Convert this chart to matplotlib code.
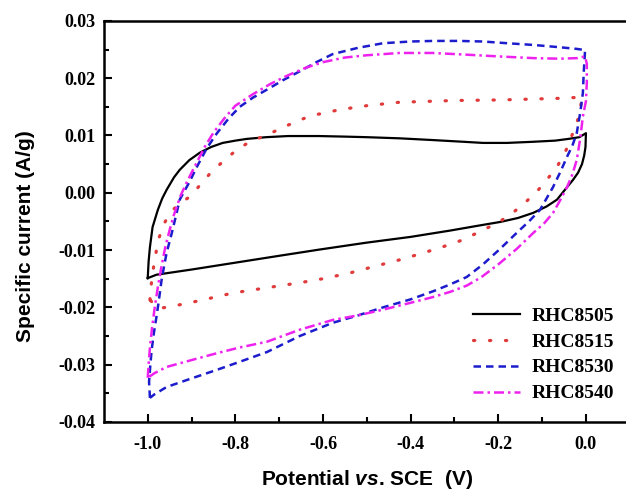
import matplotlib
matplotlib.use('Agg')
import matplotlib.pyplot as plt

plt.rcParams['mathtext.fontset'] = 'custom'
plt.rcParams['mathtext.it'] = 'Liberation Sans:italic:bold'
plt.rcParams['mathtext.rm'] = 'Liberation Sans:bold'

# each loop: anodic sweep (-1.0 -> 0.0) then cathodic sweep back to -1.0
x8505 = [-1.0, -0.998, -0.995, -0.989, -0.977, -0.967, -0.957, -0.94, -0.927, -0.905, -0.881, -0.855, -0.829, -0.8, -0.774,
         -0.73, -0.68, -0.61, -0.55, -0.5, -0.425, -0.35, -0.28, -0.235, -0.18, -0.12, -0.07, -0.04, -0.015, 0.0,
         -0.001, -0.004, -0.009, -0.018, -0.03, -0.045, -0.066, -0.09, -0.12, -0.155, -0.196, -0.25, -0.31, -0.4, -0.5,
         -0.607, -0.7, -0.8, -0.9, -0.98, -1.0]
y8505 = [-0.0149, -0.012, -0.0095, -0.006, -0.003, -0.001, 0.0005, 0.0027, 0.004, 0.0057, 0.007, 0.008, 0.0087, 0.0091, 0.0094,
         0.0097, 0.0099, 0.0099, 0.0098, 0.0097, 0.0095, 0.0092, 0.0089, 0.0087, 0.0087, 0.0089, 0.0091, 0.0094, 0.0097, 0.0104,
         0.008, 0.0065, 0.005, 0.0035, 0.0022, 0.0008, -0.0012, -0.0024, -0.0035, -0.0044, -0.0051, -0.0058, -0.0066, -0.0077, -0.0087,
         -0.0099, -0.011, -0.0122, -0.0134, -0.0143, -0.0149]

x8515 = [-0.995, -0.992, -0.985, -0.975, -0.96, -0.94, -0.92, -0.904, -0.88, -0.854, -0.829, -0.797, -0.767, -0.728, -0.68,
         -0.63, -0.562, -0.5, -0.425, -0.3, -0.196, -0.1, -0.052, -0.009,
         -0.015, -0.03, -0.045, -0.066, -0.09, -0.112, -0.14, -0.167, -0.2, -0.235, -0.28, -0.333, -0.38, -0.425, -0.48,
         -0.539, -0.6, -0.653, -0.73, -0.806, -0.88, -0.943, -0.975, -0.995]
y8515 = [-0.0187, -0.016, -0.012, -0.008, -0.005, -0.0028, -0.0015, -0.0007, 0.0014, 0.0037, 0.0054, 0.0075, 0.0089, 0.0101, 0.0118,
         0.0134, 0.0145, 0.0152, 0.0158, 0.0161, 0.0162, 0.0164, 0.0165, 0.0167,
         0.0135, 0.0104, 0.0075, 0.0045, 0.0022, 0.0002, -0.0018, -0.0035, -0.0052, -0.0065, -0.0082, -0.0096, -0.0107, -0.0117, -0.0128,
         -0.014, -0.015, -0.0157, -0.0166, -0.0175, -0.0188, -0.0198, -0.0202, -0.0187]

x8530 = [-0.995, -0.997, -0.994, -0.991, -0.986, -0.98, -0.975, -0.968, -0.957, -0.945, -0.934, -0.927, -0.904, -0.888, -0.865,
         -0.842, -0.815, -0.79, -0.76, -0.728, -0.69, -0.653, -0.615, -0.578, -0.52, -0.463, -0.4, -0.349, -0.29, -0.235, -0.18,
         -0.12, -0.06, -0.02, -0.002,
         -0.003, -0.005, -0.007, -0.013, -0.021, -0.031, -0.043, -0.058, -0.075, -0.09, -0.105, -0.13, -0.158, -0.196, -0.235,
         -0.272, -0.31, -0.349, -0.4, -0.463, -0.52, -0.578, -0.653, -0.728, -0.79, -0.842, -0.9, -0.957, -0.985, -0.995]
y8530 = [-0.0358, -0.033, -0.030, -0.0274, -0.0245, -0.0216, -0.019, -0.015, -0.0105, -0.007, -0.0035, -0.0012, 0.002, 0.0045, 0.0078,
         0.0104, 0.013, 0.015, 0.0166, 0.018, 0.0197, 0.0212, 0.0228, 0.0242, 0.0253, 0.0261, 0.0264, 0.0265, 0.0265, 0.0264, 0.0261,
         0.0258, 0.0254, 0.0251, 0.0249,
         0.0235, 0.021, 0.0174, 0.014, 0.0104, 0.0082, 0.0063, 0.0037, 0.001, -0.001, -0.003, -0.005, -0.007, -0.0098, -0.0125,
         -0.0147, -0.016, -0.0172, -0.0186, -0.020, -0.0214, -0.0227, -0.025, -0.0278, -0.0295, -0.0309, -0.0324, -0.0339, -0.0352, -0.0358]

x8540 = [-1.0, -0.998, -0.995, -0.99, -0.984, -0.977, -0.969, -0.96, -0.95, -0.94, -0.925, -0.91, -0.89, -0.87, -0.85,
         -0.825, -0.8, -0.76, -0.72, -0.68, -0.64, -0.6, -0.55, -0.5, -0.425, -0.35, -0.272, -0.2, -0.12, -0.06, -0.02, -0.002,
         0.002, 0.002, 0.0, -0.007, -0.013, -0.021, -0.031, -0.043, -0.058, -0.075, -0.095, -0.12, -0.158, -0.2, -0.24,
         -0.272, -0.31, -0.349, -0.4, -0.463, -0.52, -0.578, -0.653, -0.728, -0.79, -0.842, -0.9, -0.957, -0.985, -1.0]
y8540 = [-0.0323, -0.030, -0.027, -0.0235, -0.020, -0.0165, -0.013, -0.0095, -0.0065, -0.0038, -0.0005, 0.002, 0.005, 0.008, 0.0105,
         0.013, 0.0152, 0.0172, 0.019, 0.0205, 0.0218, 0.0228, 0.0236, 0.024, 0.0244, 0.0244, 0.0241, 0.0238, 0.0235, 0.0234, 0.0235, 0.0238,
         0.0225, 0.0192, 0.016, 0.0133, 0.0095, 0.0057, 0.0032, 0.001, -0.0012, -0.0035, -0.0053, -0.007, -0.0098, -0.0125, -0.0148,
         -0.0162, -0.0173, -0.0182, -0.0192, -0.0204, -0.0214, -0.0222, -0.0239, -0.026, -0.027, -0.028, -0.0292, -0.0304, -0.0315, -0.0323]

labels = ['RHC8505', 'RHC8515', 'RHC8530', 'RHC8540']
xticks = [-1.0, -0.8, -0.6, -0.4, -0.2, 0.0]
yticks = [-0.04, -0.03, -0.02, -0.01, 0.0, 0.01, 0.02, 0.03]

fig = plt.figure(figsize=(6.26, 4.97), dpi=100)
ax = fig.add_axes((0.166, 0.151, 0.840, 0.807))

ax.plot(x8505, y8505, color='black', lw=1.6, label=labels[0])
ax.plot(x8515, y8515, color='#e03a3a', lw=2.3, ls=(0, (0.4, 4.6)), dash_capstyle='round', label=labels[1])
ax.plot(x8530, y8530, color='#1c1ccc', lw=1.8, ls=(0, (3.0, 2.0)), label=labels[2])
ax.plot(x8540, y8540, color='#ee22ee', lw=1.8, ls=(0, (4.0, 1.6, 1.0, 1.6)), label=labels[3])

ax.set_xlim(-1.1, 0.1)
ax.set_ylim(-0.04, 0.03)
ax.set_xticks(xticks)
ax.set_xticks([-0.9, -0.7, -0.5, -0.3, -0.1], minor=True)
ax.set_yticks(yticks)
ax.set_yticks([-0.035, -0.025, -0.015, -0.005, 0.005, 0.015, 0.025], minor=True)
ax.set_xticklabels(['%.1f' % v for v in xticks])
ax.set_yticklabels(['%.2f' % v for v in yticks])

ax.tick_params(which='both', direction='in', width=1.5)
ax.tick_params(which='major', length=6, labelsize=13)
ax.tick_params(which='minor', length=3.5)
ax.tick_params(axis='x', which='major', pad=10)
ax.tick_params(axis='y', which='major', pad=6)
for lab in ax.get_xticklabels() + ax.get_yticklabels():
    lab.set_family('Liberation Serif')
    lab.set_fontweight('bold')
for s in ax.spines.values():
    s.set_linewidth(1.8)

ax.set_xlabel(r'Potential $\mathit{vs}$. SCE  (V)', family='Liberation Sans',
              fontweight='bold', fontsize=15, labelpad=11)
ax.set_ylabel('Specific current (A/g)', family='Liberation Sans', fontweight='bold', fontsize=15)
ax.yaxis.set_label_coords(-0.131, 0.464)

ax.legend(loc='lower right', bbox_to_anchor=(1.003, 0.005), frameon=False,
          prop={'family': 'Liberation Serif', 'weight': 'bold', 'size': 14},
          handlelength=2.4, handletextpad=0.6, labelspacing=0.43)

fig.savefig('out.png', dpi=100)
